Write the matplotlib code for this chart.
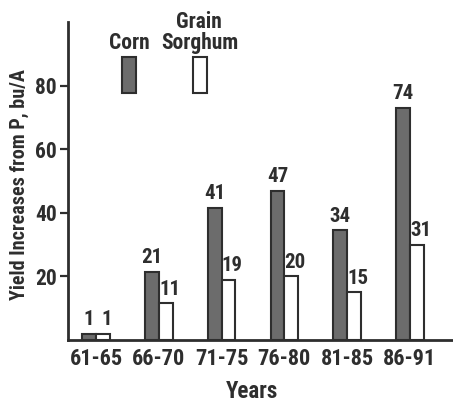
import matplotlib
matplotlib.use("Agg")
import matplotlib.pyplot as plt
from matplotlib.patches import Rectangle
import numpy as np

categories = ["61-65", "66-70", "71-75", "76-80", "81-85", "86-91"]
corn = [1, 21, 41, 47, 34, 74]
sorghum = [1, 11, 19, 20, 15, 31]
corn_plot = [2, 21.5, 41.5, 47, 34.5, 73]
sorghum_plot = [2, 11.5, 19, 20, 15, 30]
yticks = [20, 40, 60, 80]

FAM = ["Roboto Condensed", "Open Sans Condensed", "DejaVu Sans"]
plt.rcParams["font.family"] = FAM
plt.rcParams["font.weight"] = "bold"
INK = "#2e2e2e"
GRAY = "#6c6c6c"

fig = plt.figure(figsize=(4.53, 4.04), dpi=100)
ax = fig.add_axes([68/453, 64/404, 384/453, 318/404])

x = np.arange(len(categories))
w = 0.22
ax.bar(x - w/2, corn_plot, w, color=GRAY, edgecolor=INK, linewidth=1.5)
ax.bar(x + w/2, sorghum_plot, w, color="white", edgecolor=INK, linewidth=1.5)

for i in range(len(categories)):
    ax.text(x[i] - w/2, corn_plot[i] + 1.5, str(corn[i]), ha="center", va="bottom",
            fontsize=15, color=INK, fontweight="bold")
    ax.text(x[i] + w/2 + 0.06, sorghum_plot[i] + 1.5, str(sorghum[i]), ha="center", va="bottom",
            fontsize=15, color=INK, fontweight="bold")

ax.set_xlim(-0.446, 5.67)
ax.set_ylim(0, 100)
ax.set_yticks(yticks)
ax.set_xticks(x)
ax.set_xticklabels(categories)
for s in ["top", "right"]:
    ax.spines[s].set_visible(False)
for s in ["left", "bottom"]:
    ax.spines[s].set_linewidth(2)
    ax.spines[s].set_color(INK)
ax.tick_params(axis="y", length=6, width=1.6, color=INK, labelsize=15.5, labelcolor=INK, pad=2)
ax.tick_params(axis="x", length=0, labelsize=16, labelcolor=INK, pad=6)

fig.text(252/453, 1 - 392/404, "Years", ha="center", va="center", fontsize=16.5, color=INK, fontweight="bold")
fig.text(19/453, 1 - 185/404, "Yield Increases from P, bu/A", ha="center", va="center",
         rotation=90, fontsize=14.5, color=INK, fontweight="bold")

# legend
fig.patches.append(Rectangle((122/453, 1 - 93/404), 14/453, 36/404, transform=fig.transFigure,
                             facecolor=GRAY, edgecolor=INK, linewidth=1.5))
fig.patches.append(Rectangle((193/453, 1 - 93/404), 14/453, 36/404, transform=fig.transFigure,
                             facecolor="white", edgecolor=INK, linewidth=1.5))
fig.text(129.5/453, 1 - 43/404, "Corn", ha="center", va="center", fontsize=15.5, color=INK, fontweight="bold")
fig.text(200/453, 1 - 43/404, "Sorghum", ha="center", va="center", fontsize=15.5, color=INK, fontweight="bold")
fig.text(199/453, 1 - 22/404, "Grain", ha="center", va="center", fontsize=15.5, color=INK, fontweight="bold")

fig.savefig("out.png", dpi=100)
